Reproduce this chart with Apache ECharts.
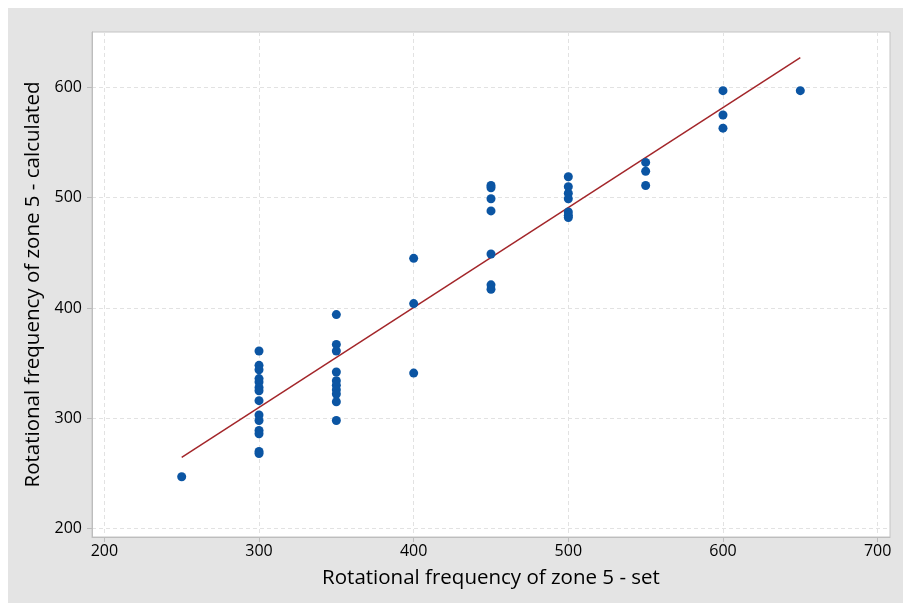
<!DOCTYPE html>
<html>
<head>
<meta charset="utf-8">
<script src="https://cdn.jsdelivr.net/npm/echarts@6/dist/echarts.min.js"></script>
<style>
html,body{margin:0;padding:0;background:#ffffff;}
#chart{width:903px;height:603px;}
</style>
</head>
<body>
<div id="chart"></div>
<script>
// Data
const setValues = [
  250,
  300,300,300,300,300,300,300,300,300,300,300,300,300,300,
  350,350,350,350,350,350,350,350,350,350,
  400,400,400,
  450,450,450,450,450,450,450,
  500,500,500,500,500,500,500,
  550,550,550,
  600,600,600,
  650
];
const calcValues = [
  247,
  361,348,344,336,333,328,325,316,303,298,289,286,270,268,
  394,367,361,342,334,330,326,322,315,298,
  445,404,341,
  511,509,499,488,449,421,417,
  519,510,504,499,487,484,482,
  532,524,511,
  597,575,563,
  597
];
const fitX = [250, 650];
const fitY = [264.5, 627];
const xTicks = [200, 300, 400, 500, 600, 700];
const yTicks = [200, 300, 400, 500, 600];
const xTitle = 'Rotational frequency of zone 5 - set';
const yTitle = 'Rotational frequency of zone 5 - calculated';

const points = setValues.map((v, i) => [v, calcValues[i]]);
const fitLine = fitX.map((v, i) => [v, fitY[i]]);

const chart = echarts.init(document.getElementById('chart'), null, {renderer: 'canvas'});
const font = '"Open Sans", "DejaVu Sans", sans-serif';
const gridLine = {show: true, lineStyle: {color: '#e2e2e2', type: [4, 3], width: 1}};
chart.setOption({
  animation: false,
  backgroundColor: '#ffffff',
  graphic: [{
    type: 'rect', left: 8, top: 8, z: -10,
    shape: {width: 895, height: 595},
    style: {fill: '#e4e4e4'}
  }],
  grid: {
    left: 92, top: 32, right: 13, bottom: 66,
    show: true, backgroundColor: '#ffffff', borderColor: '#c4c4c4', borderWidth: 1
  },
  xAxis: {
    type: 'value', min: 192, max: 708,
    name: xTitle, nameLocation: 'middle', nameGap: 31,
    nameTextStyle: {fontFamily: font, fontSize: 20.5, color: '#000000'},
    axisLine: {show: true, lineStyle: {color: '#bdbdbd'}},
    axisTick: {show: true, length: 5, lineStyle: {color: '#bdbdbd'}, customValues: xTicks},
    axisLabel: {customValues: xTicks, fontFamily: font, fontSize: 16, color: '#000000', margin: 6},
    splitLine: gridLine
  },
  yAxis: {
    type: 'value', min: 192.4, max: 650.2,
    name: yTitle, nameLocation: 'middle', nameGap: 47, nameRotate: 90,
    nameTextStyle: {fontFamily: font, fontSize: 20.5, color: '#000000'},
    axisLine: {show: true, lineStyle: {color: '#bdbdbd'}},
    axisTick: {show: true, length: 5, lineStyle: {color: '#bdbdbd'}, customValues: yTicks},
    axisLabel: {customValues: yTicks, fontFamily: font, fontSize: 16, color: '#000000', margin: 10},
    splitLine: gridLine
  },
  series: [
    {
      type: 'line', data: fitLine, symbol: 'none', silent: true,
      lineStyle: {color: '#a3262a', width: 1.5}, z: 2
    },
    {
      type: 'scatter', data: points, symbol: 'circle', symbolSize: 9,
      itemStyle: {color: '#0b55a3', opacity: 1}, z: 3
    }
  ]
});
</script>
</body>
</html>
